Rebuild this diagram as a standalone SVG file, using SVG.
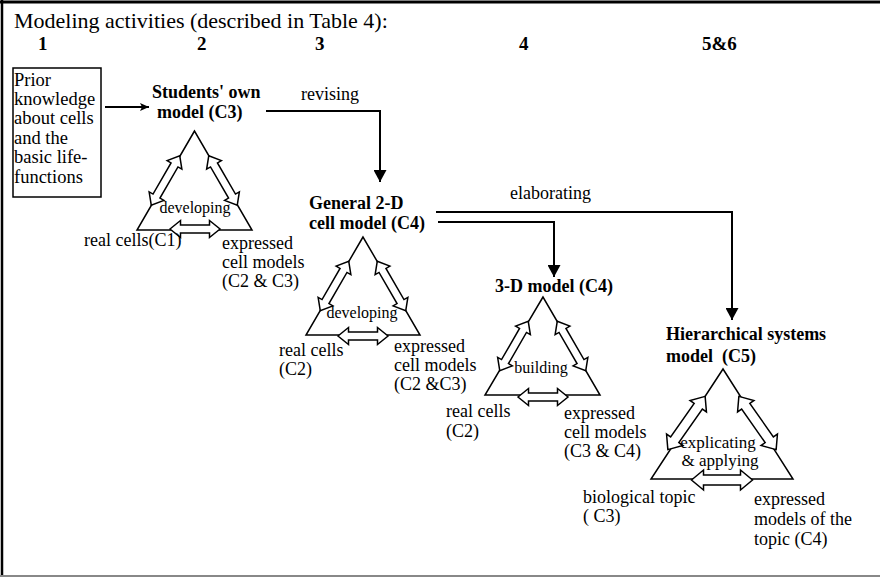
<svg xmlns="http://www.w3.org/2000/svg" xmlns:xlink="http://www.w3.org/1999/xlink" width="880" height="577" viewBox="0 0 880 577">
<style>
text{font-family:"Liberation Serif","Times New Roman",serif;fill:#000}
.t{font-size:22px}
.n{font-size:19px;font-weight:bold}
.b{font-size:18px;font-weight:bold}
.r{font-size:18px}
.s{font-size:16px}
.m{text-anchor:middle}
.c{fill:none;stroke:#000;stroke-width:2}
.tri{fill:none;stroke:#000;stroke-width:1.5}
.dbl{fill:#fff;stroke:#000;stroke-width:1.5;stroke-linejoin:miter}
</style>
<defs>
<marker id="ah" markerUnits="userSpaceOnUse" markerWidth="12" markerHeight="13" refX="12" refY="6.5" orient="auto"><path d="M0,0 L12,6.5 L0,13 z" fill="#000"/></marker>
<marker id="ahs" markerUnits="userSpaceOnUse" markerWidth="9" markerHeight="8" refX="9" refY="4" orient="auto"><path d="M0,0 L9,4 L0,8 L2,4 z" fill="#000"/></marker>
<path id="d57" d="M-28.5,0 L-18,-8.5 L-18,-4 L18,-4 L18,-8.5 L28.5,0 L18,8.5 L18,4 L-18,4 L-18,8.5 Z"/>
<path id="d50" d="M-25,0 L-14.5,-8.5 L-14.5,-4 L14.5,-4 L14.5,-8.5 L25,0 L14.5,8.5 L14.5,4 L-14.5,4 L-14.5,8.5 Z"/>
<path id="d65" d="M-32.5,0 L-20.5,-10 L-20.5,-5 L20.5,-5 L20.5,-10 L32.5,0 L20.5,10 L20.5,5 L-20.5,5 L-20.5,10 Z"/>
<path id="d61" d="M-30.5,0 L-18.5,-10 L-18.5,-5 L18.5,-5 L18.5,-10 L30.5,0 L18.5,10 L18.5,5 L-18.5,5 L-18.5,10 Z"/>
</defs>
<rect width="880" height="577" fill="#fff"/>
<g id="frame">
<line x1="0" y1="2" x2="880" y2="2" stroke="#000" stroke-width="3"/>
<line x1="2" y1="0" x2="2" y2="577" stroke="#000" stroke-width="2.5"/>
<line x1="0" y1="576" x2="880" y2="576" stroke="#888" stroke-width="2"/>
</g>
<g id="header">
<text class="t" x="14" y="28">Modeling activities (described in Table 4):</text>
<text class="n" x="38" y="50">1</text>
<text class="n" x="197" y="50">2</text>
<text class="n" x="315" y="50">3</text>
<text class="n" x="519" y="50">4</text>
<text class="n" x="702" y="50">5&amp;6</text>
</g>
<g id="connectors">
<path class="c" d="M105,107 H149" marker-end="url(#ahs)"/>
<path class="c" d="M266,111 H380 V182" marker-end="url(#ah)"/>
<path class="c" d="M438,222 H554 V277" marker-end="url(#ah)"/>
<path class="c" d="M436,212 H732 V320" marker-end="url(#ah)"/>
<text class="r" x="301" y="100">revising</text>
<text class="r" x="510" y="199">elaborating</text>
</g>
<g id="prior">
<rect x="13" y="68" width="88" height="129" fill="none" stroke="#000" stroke-width="1.5"/>
<text class="r" x="14" y="86" style="font-size:18.5px">Prior</text>
<text class="r" x="14" y="105" style="font-size:18.5px">knowledge</text>
<text class="r" x="14" y="124" style="font-size:18.5px">about cells</text>
<text class="r" x="14" y="144" style="font-size:18.5px">and the</text>
<text class="r" x="14" y="163" style="font-size:18.5px">basic life-</text>
<text class="r" x="14" y="183" style="font-size:18.5px">functions</text>
</g>
<g id="students-model">
<text class="b" x="152" y="98">Students' own</text>
<text class="b" x="157" y="118">model (C3)</text>
<polygon class="tri" points="194.5,131 137,230 252,230"/>
<use xlink:href="#d57" class="dbl" transform="translate(165.5,180.5) rotate(-60)"/>
<use xlink:href="#d57" class="dbl" transform="translate(223,180.5) rotate(60)"/>
<use xlink:href="#d50" class="dbl" transform="translate(195,229)"/>
<text class="s m" x="195" y="213">developing</text>
<text class="r" x="84" y="246">real cells(C1)</text>
<text class="r" x="222" y="249">expressed</text>
<text class="r" x="222" y="268">cell models</text>
<text class="r" x="222" y="287">(C2 &amp; C3)</text>
</g>
<g id="general-2d-model">
<text class="b" x="309" y="209">General 2-D</text>
<text class="b" x="309" y="229">cell model (C4)</text>
<polygon class="tri" points="363,237 306,335 420,335"/>
<use xlink:href="#d57" class="dbl" transform="translate(334.5,286) rotate(-60)"/>
<use xlink:href="#d57" class="dbl" transform="translate(391.5,286) rotate(60)"/>
<use xlink:href="#d50" class="dbl" transform="translate(363,336)"/>
<text class="s m" x="362" y="318">developing</text>
<text class="r" x="279" y="356">real cells</text>
<text class="r" x="279" y="375">(C2)</text>
<text class="r" x="394" y="352">expressed</text>
<text class="r" x="394" y="371">cell models</text>
<text class="r" x="394" y="390">(C2 &amp;C3)</text>
</g>
<g id="model-3d">
<text class="b" x="495" y="292">3-D model (C4)</text>
<polygon class="tri" points="543,297 485,395 600,395"/>
<use xlink:href="#d57" class="dbl" transform="translate(514,346) rotate(-60)"/>
<use xlink:href="#d57" class="dbl" transform="translate(571.5,346) rotate(60)"/>
<use xlink:href="#d50" class="dbl" transform="translate(543,397)"/>
<text class="s m" x="541" y="373">building</text>
<text class="r" x="446" y="417">real cells</text>
<text class="r" x="446" y="437">(C2)</text>
<text class="r" x="564" y="419">expressed</text>
<text class="r" x="564" y="438">cell models</text>
<text class="r" x="564" y="457">(C3 &amp; C4)</text>
</g>
<g id="hierarchical-model">
<text class="b" x="666" y="340">Hierarchical systems</text>
<text class="b" x="666" y="362" xml:space="preserve">model  (C5)</text>
<polygon class="tri" points="723,369 651,479 793,479"/>
<use xlink:href="#d65" class="dbl" transform="translate(686.5,423) rotate(-55)"/>
<use xlink:href="#d65" class="dbl" transform="translate(757.5,423) rotate(55)"/>
<use xlink:href="#d61" class="dbl" transform="translate(722,480)"/>
<text class="s m" x="718" y="448" style="font-size:17px">explicating</text>
<text class="s m" x="720" y="466" style="font-size:17px">&amp; applying</text>
<text class="r" x="583" y="503">biological topic</text>
<text class="r" x="583" y="522">( C3)</text>
<text class="r" x="754" y="505">expressed</text>
<text class="r" x="754" y="525">models of the</text>
<text class="r" x="754" y="545">topic (C4)</text>
</g>
</svg>
